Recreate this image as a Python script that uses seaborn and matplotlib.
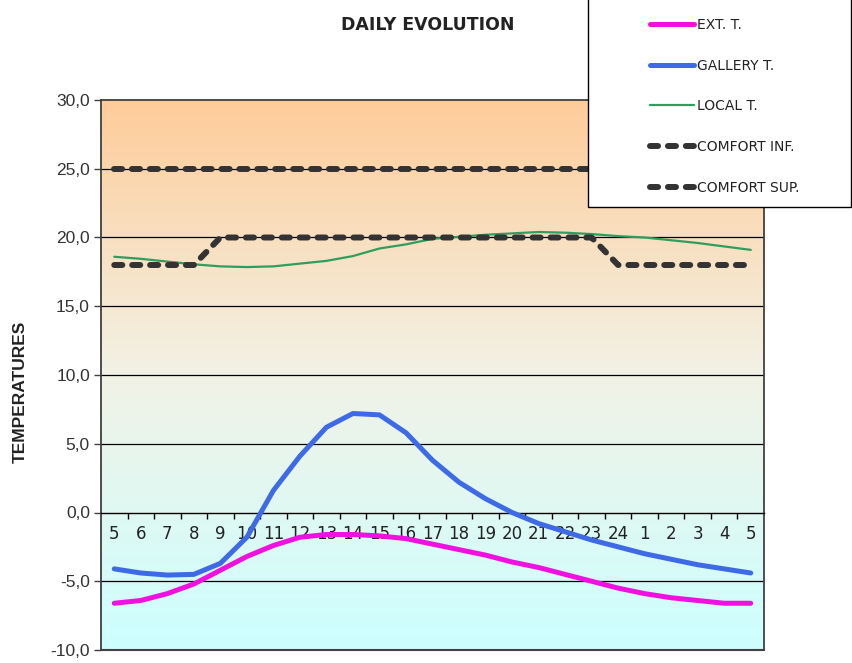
import numpy as np
import matplotlib
matplotlib.use("Agg")
import matplotlib.pyplot as plt
from matplotlib.colors import LinearSegmentedColormap
from matplotlib.patches import Rectangle
from matplotlib.ticker import FuncFormatter
import seaborn as sns

# hours of the day (category axis)
hours = ["5", "6", "7", "8", "9", "10", "11", "12", "13", "14", "15", "16", "17",
         "18", "19", "20", "21", "22", "23", "24", "1", "2", "3", "4", "5"]

# temperatures
ext_t = [-6.6, -6.4, -5.9, -5.2, -4.2, -3.2, -2.4, -1.8, -1.6, -1.6, -1.7, -1.9, -2.3,
         -2.7, -3.1, -3.6, -4.0, -4.5, -5.0, -5.5, -5.9, -6.2, -6.4, -6.6, -6.6]
gallery_t = [-4.1, -4.4, -4.55, -4.5, -3.7, -1.8, 1.6, 4.1, 6.2, 7.2, 7.1, 5.8, 3.8,
             2.2, 1.0, 0.0, -0.8, -1.4, -2.0, -2.5, -3.0, -3.4, -3.8, -4.1, -4.4]
local_t = [18.6, 18.45, 18.25, 18.05, 17.9, 17.85, 17.9, 18.1, 18.3, 18.65, 19.2, 19.5, 19.9,
           20.05, 20.2, 20.3, 20.4, 20.35, 20.25, 20.1, 20.0, 19.8, 19.6, 19.35, 19.1]
comfort_inf = [18, 18, 18, 18, 20, 20, 20, 20, 20, 20, 20, 20, 20,
               20, 20, 20, 20, 20, 20, 18, 18, 18, 18, 18, 18]
comfort_sup = [25, 25, 25, 25, 25, 25, 25, 25, 25, 25, 25, 25, 25,
               25, 25, 25, 25, 25, 25, 25, 25, 25, 25, 25, 25]

series_names = ["EXT. T.", "GALLERY T.", "LOCAL T.", "COMFORT INF.", "COMFORT SUP."]

sns.set_theme(style="white")
plt.rcParams["font.family"] = ["DejaVu Sans"]

fig = plt.figure(figsize=(8.52, 6.63), dpi=100)
ax = fig.add_axes([101 / 852, 1 - 650 / 663, 663 / 852, 550 / 663])

x = np.arange(len(hours))

# gradient background orange -> pale -> cyan
bg_cmap = LinearSegmentedColormap.from_list("bg", [(0.0, "#FFCC99"), (0.5, "#F2F2E6"), (1.0, "#CCFFFF")])
ax.imshow(np.linspace(0, 1, 256).reshape(-1, 1), cmap=bg_cmap, aspect="auto",
          extent=(-0.5, len(hours) - 0.5, -10, 30), zorder=0, origin="upper")

for yv in [-5, 5, 10, 15, 20, 25]:
    ax.axhline(yv, color="black", lw=0.9, zorder=1)

dash = (0, (1.35, 1.65))
sns.lineplot(x=x, y=ext_t, ax=ax, color="#F010E0", lw=3.6, label=series_names[0],
             solid_capstyle="round", zorder=3)
sns.lineplot(x=x, y=gallery_t, ax=ax, color="#3F6AE6", lw=3.6, label=series_names[1],
             solid_capstyle="round", zorder=3)
sns.lineplot(x=x, y=local_t, ax=ax, color="#2E9E5E", lw=1.6, label=series_names[2], zorder=3)
sns.lineplot(x=x, y=comfort_inf, ax=ax, color="#333333", lw=4.3, label=series_names[3],
             linestyle=dash, dash_capstyle="round", zorder=4)
sns.lineplot(x=x, y=comfort_sup, ax=ax, color="#333333", lw=4.3, label=series_names[4],
             linestyle=dash, dash_capstyle="round", zorder=4)

ax.set_xlim(-0.5, len(hours) - 0.5)
ax.set_ylim(-10, 30)

# x axis crosses at 0
ax.spines["bottom"].set_position(("data", 0))
ax.axhline(-10, color="#404040", lw=1.5, clip_on=False, zorder=5)
for s in ax.spines.values():
    s.set_color("#404040")
    s.set_linewidth(1.3)
ax.spines["bottom"].set_color("black")
ax.spines["bottom"].set_linewidth(1.0)

ax.set_xticks(np.arange(0.5, len(hours) - 1, 1))
ax.set_xticklabels([])
ax.set_xticks(x, minor=True)
ax.set_xticklabels(hours, minor=True)
ax.tick_params(axis="x", which="major", direction="out", length=4, width=1, color="black", bottom=True)
ax.tick_params(axis="x", which="minor", length=0, pad=9, labelsize=12, labelcolor="#222222")

ax.set_yticks(np.arange(-10, 31, 5))
ax.yaxis.set_major_formatter(FuncFormatter(lambda v, p: f"{v:.1f}".replace(".", ",")))
ax.tick_params(axis="y", direction="out", length=5, width=1, color="#404040", left=True,
               labelsize=12.5, labelcolor="#333333", pad=3)
for t in ax.get_yticklabels():
    t.set_family(["Liberation Sans", "DejaVu Sans"])

ax.set_xlabel("")
ax.set_ylabel("TEMPERATURES", fontsize=12.5, fontweight="bold", color="#222222",
              family=["Liberation Sans Narrow", "Liberation Sans", "DejaVu Sans"])
ax.yaxis.set_label_coords(-0.11, 0.47)

fig.text(428 / 852, 1 - 25 / 663, "DAILY EVOLUTION", ha="center", va="center",
         fontsize=12.5, fontweight="bold", color="#222222")

# legend box sticking out of the top right corner
handles, labels = ax.get_legend_handles_labels()
ax.get_legend().remove()
fig.add_artist(Rectangle((588 / 852, 1 - 207 / 663), (851 - 588) / 852, 210 / 663,
                         transform=fig.transFigure, facecolor="white", edgecolor="black",
                         lw=1.0, zorder=10))
leg = fig.legend(handles, labels, loc="upper left", bbox_to_anchor=(650 / 852, 1 - 18 / 663),
                 frameon=False, borderpad=0, borderaxespad=0, fontsize=10,
                 handlelength=3.2, handletextpad=0.15, labelspacing=1.92,
                 labelcolor="#222222")
leg.set_zorder(11)

fig.savefig("out.png", dpi=100)
